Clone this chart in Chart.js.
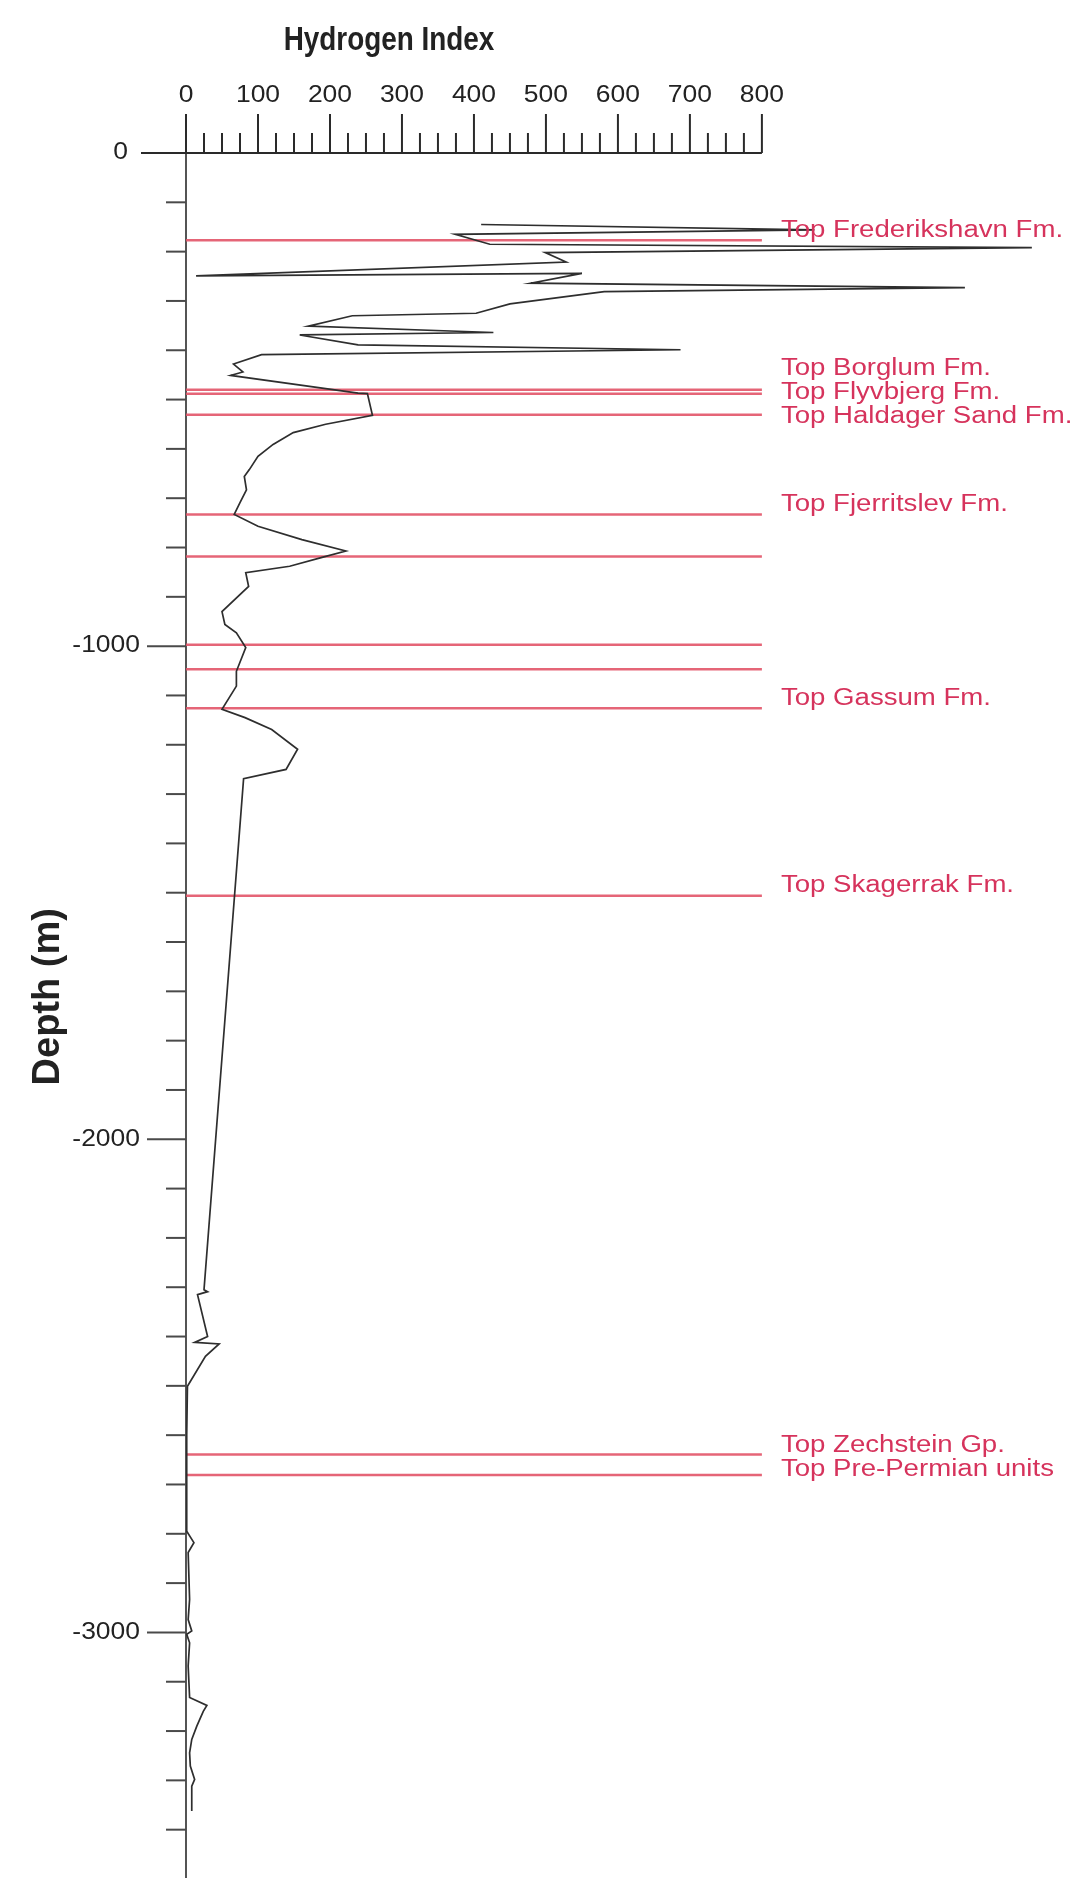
<!DOCTYPE html>
<html>
<head>
<meta charset="utf-8">
<script src="https://cdn.jsdelivr.net/npm/chart.js@4.4.1/dist/chart.umd.min.js"></script>
<style>
  html, body { margin: 0; padding: 0; background: #ffffff; }
  canvas { display: block; }
</style>
</head>
<body>
<canvas id="hiChart" width="1070" height="1878"></canvas>
<script>
// Hydrogen Index log against depth (m, negative downwards)
const depthValues = [
  -145, -156, -165, -185, -192, -202, -221, -249, -244, -264,
  -273, -281, -306, -325, -330, -351, -364, -369, -389, -399,
  -409, -428, -444, -451, -487, -488, -532, -550, -567, -591,
  -615, -642, -656, -683, -709, -733, -757, -784, -807, -820,
  -838, -851, -879, -930, -956, -973, -1003, -1051, -1081, -1128,
  -1145, -1169, -1209, -1250, -1269, -2305, -2309, -2315, -2400, -2412,
  -2415, -2440, -2501, -2600, -2700, -2795, -2818, -2838, -2933, -2974,
  -2997, -3004, -3021, -3068, -3132, -3148, -3160, -3190, -3217, -3244,
  -3271, -3298, -3312, -3362
];
const hiValues = [
  410, 873, 374, 422, 1175, 499, 528, 14, 550, 479,
  1082, 581, 450, 403, 231, 170, 427, 158, 239, 687,
  105, 66, 79, 62, 239, 252, 259, 194, 149, 121,
  100, 88, 81, 84, 75, 67, 100, 161, 222, 189,
  144, 83, 87, 50, 54, 70, 83, 70, 70, 50,
  82, 119, 155, 139, 80, 25, 30, 16, 30, 12,
  46, 27, 2, 1, 1, 1, 11, 3, 5, 3,
  8, 1, 5, 3, 5, 29, 24, 15, 8, 5,
  6, 12, 8, 8
];

// Formation tops (an empty name marks an unlabelled boundary)
const formationNames = [
  'Top Frederikshavn Fm.', 'Top Borglum Fm.', 'Top Flyvbjerg Fm.', 'Top Haldager Sand Fm.',
  'Top Fjerritslev Fm.', '', '', '', 'Top Gassum Fm.', 'Top Skagerrak Fm.',
  'Top Zechstein Gp.', 'Top Pre-Permian units'
];
const formationDepths = [-177, -480, -488, -531, -733, -818, -997, -1047, -1126, -1506, -2639, -2681];

// Axis tick labels
const hiTickLabels = ['0', '100', '200', '300', '400', '500', '600', '700', '800'];
const depthTickLabels = ['0', '-1000', '-2000', '-3000'];

const hiTicks = hiTickLabels.map(Number);
const depthTicks = depthTickLabels.map(Number);
const hiAxisEnd = hiTicks[hiTicks.length - 1];

const FONT = '"Liberation Sans", Arial, Helvetica, sans-serif';

function stretchedText(ctx, text, x, y, sx, align, baseline) {
  ctx.save();
  ctx.translate(x, y);
  ctx.scale(sx, 1);
  ctx.textAlign = align;
  ctx.textBaseline = baseline;
  ctx.fillText(text, 0, 0);
  ctx.restore();
}

function segment(ctx, x1, y1, x2, y2) {
  ctx.beginPath();
  ctx.moveTo(x1, y1);
  ctx.lineTo(x2, y2);
  ctx.stroke();
}

// Draws the top HI axis and the left depth axis with their ticks and titles
const wellAxes = {
  id: 'wellAxes',
  beforeDatasetsDraw(chart) {
    const { ctx, scales: { x, y } } = chart;
    const x0 = x.getPixelForValue(0);
    const xEnd = x.getPixelForValue(hiAxisEnd);
    const y0 = y.getPixelForValue(0);
    const majorLen = 39, minorLen = 20;

    ctx.save();
    ctx.strokeStyle = '#2a2a2a';
    ctx.lineCap = 'butt';

    // axis lines
    ctx.lineWidth = 2;
    segment(ctx, x0 - 45, y0, xEnd, y0);
    ctx.lineWidth = 1.6;
    segment(ctx, x0, y0 - majorLen, x0, chart.height);

    // HI ticks (major every 100, minor every 25)
    ctx.lineWidth = 2;
    for (let v = 0; v <= hiAxisEnd; v += 25) {
      const px = x.getPixelForValue(v);
      const len = (v % 100 === 0) ? majorLen : minorLen;
      segment(ctx, px, y0, px, y0 - len);
    }

    // depth ticks (major every 1000, minor every 100)
    ctx.strokeStyle = '#4a4a4a';
    for (let d = -100; d >= y.min; d -= 100) {
      const py = y.getPixelForValue(d);
      const len = (d % 1000 === 0) ? majorLen : minorLen;
      segment(ctx, x0 - len, py, x0, py);
    }

    // tick labels
    ctx.fillStyle = '#222222';
    ctx.font = '23px ' + FONT;
    hiTicks.forEach((v, i) => {
      stretchedText(ctx, hiTickLabels[i], x.getPixelForValue(v), y0 - 51, 1.15, 'center', 'alphabetic');
    });
    depthTicks.forEach((d, i) => {
      const right = x0 - (d === 0 ? 58 : 46);
      stretchedText(ctx, depthTickLabels[i], right, y.getPixelForValue(d), 1.15, 'right', 'middle');
    });

    // axis titles
    ctx.font = 'bold 34px ' + FONT;
    stretchedText(ctx, 'Hydrogen Index', x.getPixelForValue(282), 50, 0.82, 'center', 'alphabetic');

    ctx.save();
    ctx.translate(49, y.getPixelForValue(-1711));
    ctx.rotate(-Math.PI / 2);
    ctx.font = 'bold 38px ' + FONT;
    ctx.textAlign = 'center';
    ctx.textBaseline = 'middle';
    ctx.fillText('Depth (m)', 0, 0);
    ctx.restore();

    ctx.restore();
  },
  afterDatasetsDraw(chart) {
    const { ctx, scales: { x, y } } = chart;
    const labelX = x.getPixelForValue(hiAxisEnd) + 19;
    const gap = 24;

    // label centres sit just above their boundary; crowded ones are spread apart
    const items = formationNames
      .map((name, i) => ({ name, want: y.getPixelForValue(formationDepths[i]) - 10 }))
      .filter(it => it.name);
    const groups = [];
    items.forEach(it => {
      const g = groups[groups.length - 1];
      if (g && it.want - (g.start + (g.items.length - 1) * gap) < gap) {
        g.items.push(it);
        const mean = g.items.reduce((s, q) => s + q.want, 0) / g.items.length;
        g.start = mean - (g.items.length - 1) * gap / 2 + 3;
      } else {
        groups.push({ items: [it], start: it.want });
      }
    });

    ctx.save();
    ctx.fillStyle = '#d6335c';
    ctx.font = '23px ' + FONT;
    groups.forEach(g => {
      g.items.forEach((it, k) => {
        stretchedText(ctx, it.name, labelX, g.start + k * gap, 1.2, 'left', 'middle');
      });
    });
    ctx.restore();
  }
};

const curvePoints = depthValues.map((d, i) => ({ x: hiValues[i], y: d }));

const formationSets = formationDepths.map((d, i) => ({
  label: formationNames[i] || 'boundary',
  data: [{ x: 0, y: d }, { x: hiAxisEnd, y: d }],
  showLine: true,
  borderColor: 'rgba(226, 84, 104, 0.9)',
  borderWidth: 2.5,
  pointRadius: 0,
  fill: false
}));

new Chart(document.getElementById('hiChart'), {
  type: 'scatter',
  data: {
    datasets: [
      {
        label: 'Hydrogen Index',
        data: curvePoints,
        showLine: true,
        borderColor: '#2e2e2e',
        borderWidth: 1.7,
        pointRadius: 0,
        tension: 0,
        fill: false
      },
      ...formationSets
    ]
  },
  options: {
    responsive: false,
    animation: false,
    devicePixelRatio: 1,
    layout: { padding: { left: 186, top: 153, right: 0, bottom: 0 } },
    scales: {
      x: { type: 'linear', min: 0, max: 1228, display: false },
      y: { type: 'linear', min: -3498, max: 0, display: false }
    },
    plugins: {
      legend: { display: false },
      tooltip: { enabled: false },
      title: { display: false }
    }
  },
  plugins: [wellAxes]
});
</script>
</body>
</html>
